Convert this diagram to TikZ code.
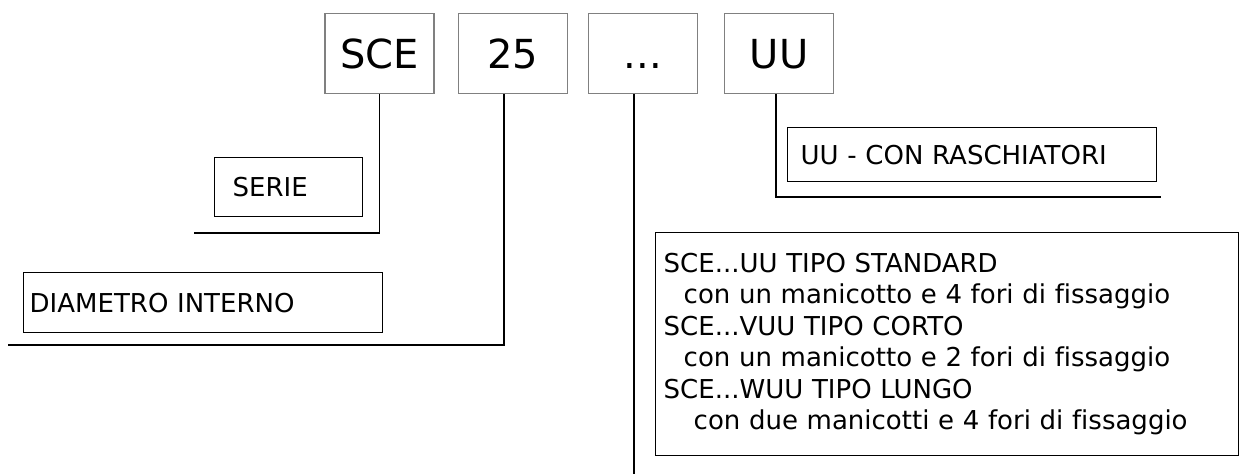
\documentclass[tikz,border=0pt]{standalone}
\usepackage{fontspec}
\setmainfont{DejaVu Sans}[Ligatures=NoCommon]
\definecolor{framegray}{gray}{0.5}
\tikzset{
  codebox/.style={draw=framegray, line width=1.6pt, minimum width=109pt, minimum height=80pt,
    inner sep=0pt, text height=29pt, text depth=0pt, font=\fontsize{40}{48}\selectfont},
  notebox/.style={draw, line width=1.4pt, anchor=north west, align=left,
    font=\fontsize{26}{31.5}\selectfont},
  lead/.style={line width=1.6pt}
}
\begin{document}
\begin{tikzpicture}[x=1pt,y=-1pt]
\useasboundingbox (0,0) rectangle (1258,474);
\node[codebox] (sce) at (379.5,53.5) {SCE};
\node[codebox] (dia) at (513,53.5) {25};
\node[codebox] (var) at (643,53.5) {...};
\node[codebox] (uu) at (779,53.5) {UU};
\node[notebox, inner xsep=18pt, text width=112pt, minimum height=59pt] (serie) at (214,157) {SERIE};
\node[notebox, inner xsep=6pt, text width=347pt, minimum height=60pt] (diam) at (23,272) {DIAMETRO INTERNO};
\node[notebox, inner xsep=13pt, text width=343pt, minimum height=54pt] (rasc) at (787,127) {UU - CON RASCHIATORI};
\node[notebox, inner xsep=8pt, text width=567pt, minimum height=223pt] (tipi) at (655,232)
  {SCE...UU TIPO STANDARD\\
   \hspace*{20pt}con un manicotto e 4 fori di fissaggio\\
   SCE...VUU TIPO CORTO\\
   \hspace*{20pt}con un manicotto e 2 fori di fissaggio\\
   SCE...WUU TIPO LUNGO\\
   \hspace*{30pt}con due manicotti e 4 fori di fissaggio};
\coordinate (serieend) at (194,233);
\coordinate (diamend) at (8,345);
\coordinate (varend) at (634,474);
\coordinate (uuend) at (1161,197);
\draw[lead] (sce.south) |- (serieend);
\draw[lead] ([xshift=-9pt]dia.south) |- (diamend);
\draw[lead] ([xshift=-9pt]var.south) -- (varend);
\draw[lead] ([xshift=-3pt]uu.south) |- (uuend);
\end{tikzpicture}
\end{document}
